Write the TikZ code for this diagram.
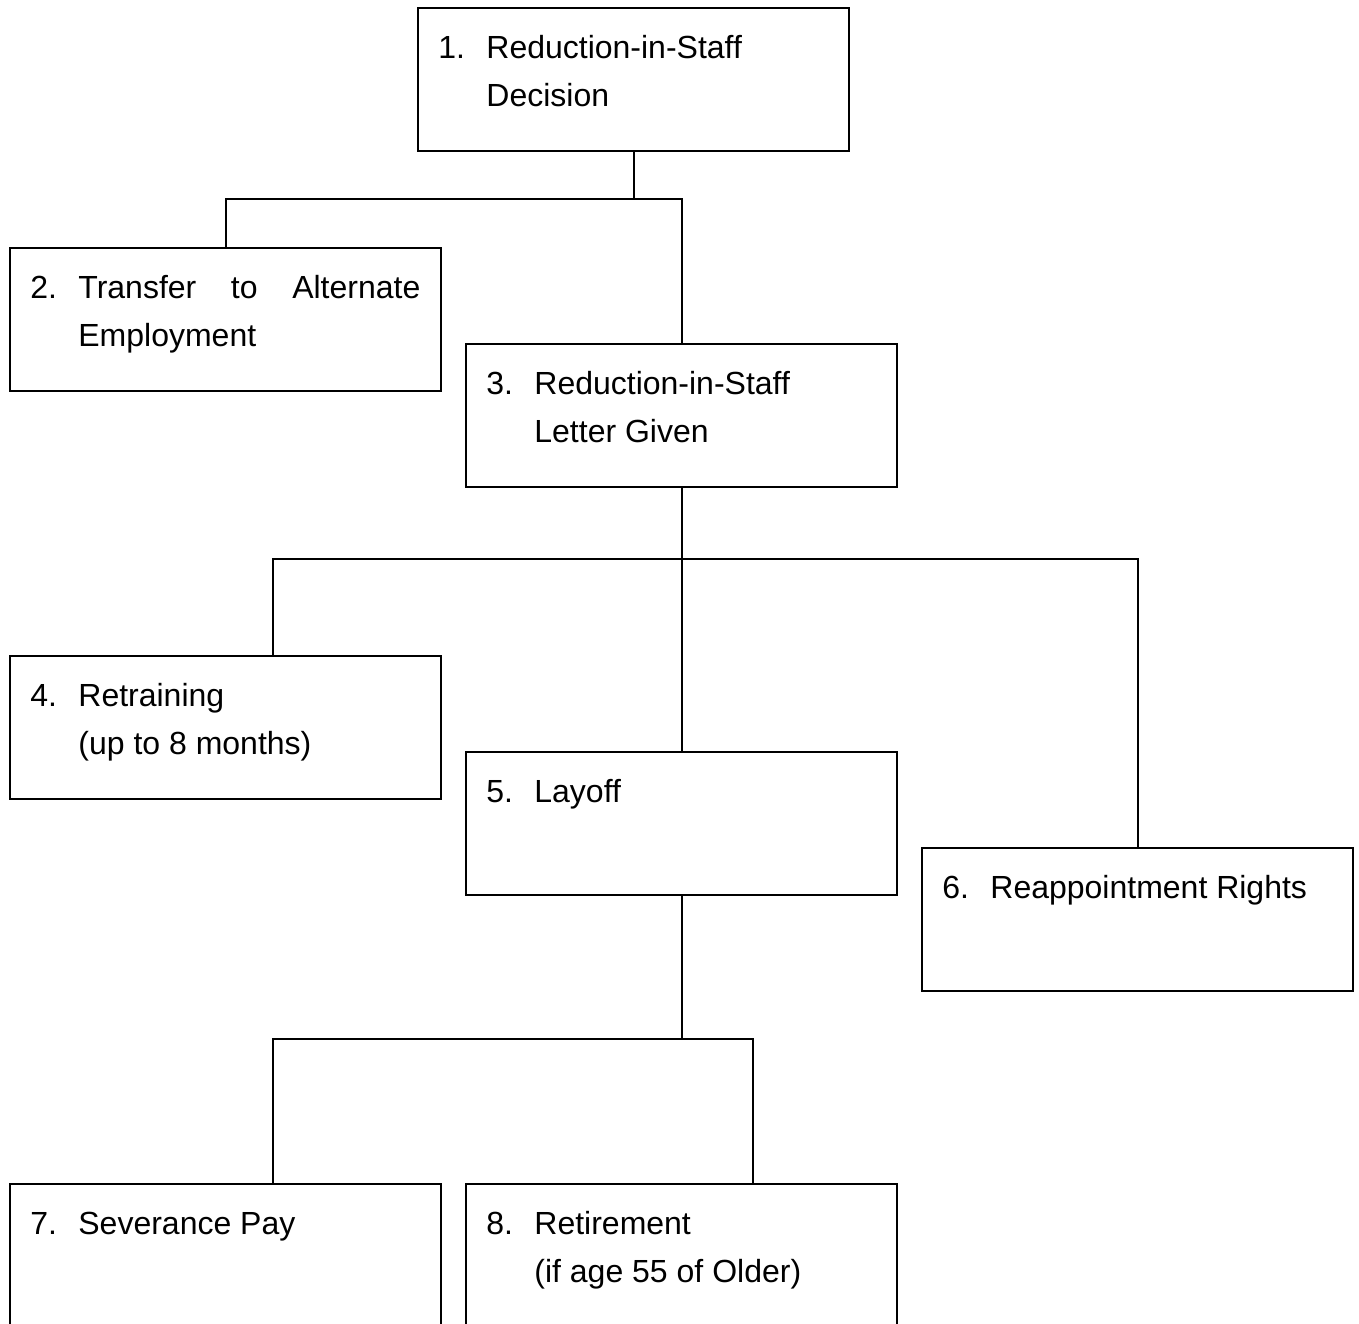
\documentclass[tikz,border=0pt]{standalone}
\usepackage{fontspec}
\setmainfont{Liberation Sans}
\usetikzlibrary{positioning, calc}
\tikzstyle{box} = [rectangle, draw, line width=1pt, outer sep=0pt, inner sep=0pt, minimum width=215.5pt, minimum height=71.5pt, anchor=north west]
\tikzstyle{txt} = [anchor=base west, inner sep=0pt, font=\fontsize{16}{24}\selectfont]
\tikzstyle{line} = [draw, line width=1pt]
\newcommand{\itm}[2]{\makebox[24pt][l]{#1}\parbox[t]{171pt}{#2}}

\begin{document}
\begin{tikzpicture}[x=0.5pt, y=-0.5pt]
			\useasboundingbox (0,0) rectangle (1359,1323);
			
			\node [box] (b1) at (418, 8) {};
			\node [box] (b2) at (10, 248) {};
			\node [box] (b3) at (466, 344) {};
			\node [box] (b4) at (10, 656) {};
			\node [box] (b5) at (466, 752) {};
			\node [box] (b6) at (922, 848) {};
			\node [box] (b7) at (10, 1184) {};
			\node [box] (b8) at (466, 1184) {};
			
			\node [txt] (t1) at ($(b1.north west)+(20,50)$) {\itm{1.}{Reduction-in-Staff\\Decision}};
			\node [txt] (t2) at ($(b2.north west)+(20,50)$) {\itm{2.}{Transfer\hfill to\hfill Alternate\\Employment}};
			\node [txt] (t3) at ($(b3.north west)+(20,50)$) {\itm{3.}{Reduction-in-Staff\\Letter Given}};
			\node [txt] (t4) at ($(b4.north west)+(20,50)$) {\itm{4.}{Retraining\\(up to 8 months)}};
			\node [txt] (t5) at ($(b5.north west)+(20,50)$) {\itm{5.}{Layoff}};
			\node [txt] (t6) at ($(b6.north west)+(20,50)$) {\itm{6.}{Reappointment Rights}};
			\node [txt] (t7) at ($(b7.north west)+(20,50)$) {\itm{7.}{Severance Pay}};
			\node [txt] (t8) at ($(b8.north west)+(20,50)$) {\itm{8.}{Retirement\\(if age 55 of Older)}};
			
			\path [line] (b1.south) -- ++(0,48) coordinate (j1);
			\path [line] (b2.north) |- (j1) -| (b3.north);
			\path [line] (b3.south) -- ++(0,72) coordinate (j2);
			\path [line] (j2) -- (b5.north);
			\path [line] ($(b4.north)+(47.5,0)$) |- (j2) -| (b6.north);
			\path [line] (b5.south) -- ++(0,144) coordinate (j3);
			\path [line] ($(b7.north)+(47.5,0)$) |- (j3) -| ($(b8.north)+(71.5,0)$);
		\end{tikzpicture}
\end{document}
